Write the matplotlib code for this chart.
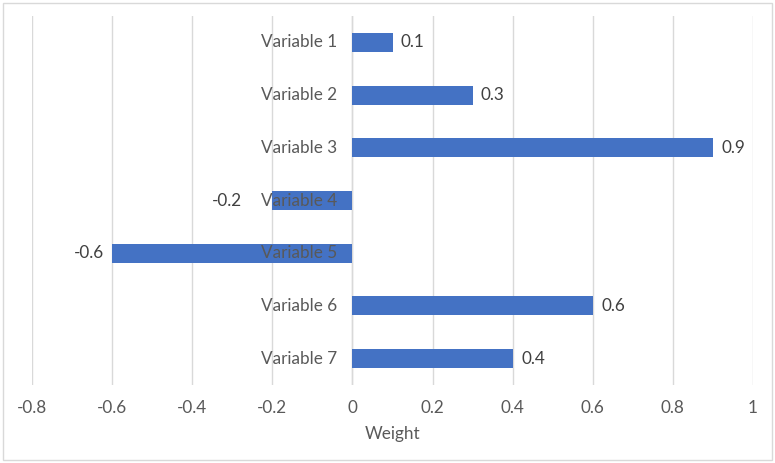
import matplotlib.pyplot as plt
from matplotlib.patches import Rectangle

categories = ['Variable 1', 'Variable 2', 'Variable 3', 'Variable 4',
              'Variable 5', 'Variable 6', 'Variable 7']
weights = [0.1, 0.3, 0.9, -0.2, -0.6, 0.6, 0.4]
xticks = [-0.8, -0.6, -0.4, -0.2, 0, 0.2, 0.4, 0.6, 0.8, 1]
xticklabels = ['-0.8', '-0.6', '-0.4', '-0.2', '0', '0.2', '0.4', '0.6', '0.8', '1']

plt.rcParams['font.family'] = ['Lato', 'DejaVu Sans']
text_col = '#595959'
fs = 12.3

fig = plt.figure(figsize=(7.75, 4.63), dpi=100)
ax = fig.add_axes([32 / 775, 1 - 385 / 463, (753 - 32) / 775, (385 - 16) / 463])

ypos = list(range(len(categories)))
ax.barh(ypos, weights, height=0.36, color='#4472C4', zorder=3)
ax.set_ylim(len(categories) - 0.5, -0.5)
ax.set_xlim(-0.8, 1.0)

ax.set_xticks(xticks)
ax.set_xticklabels(xticklabels)
ax.tick_params(axis='x', length=0, pad=11, labelsize=fs, colors=text_col)
ax.set_yticks([])
ax.grid(axis='x', color='#d9d9d9', linewidth=1, zorder=0)
ax.axvline(0, color='#d9d9d9', linewidth=1, zorder=1)
for s in ax.spines.values():
    s.set_visible(False)
ax.set_xlabel('Weight', fontsize=fs, color=text_col, labelpad=7)

# category labels sit next to the zero line, like Excel
for y, name in zip(ypos, categories):
    ax.annotate(name, (0, y), xytext=(-11, 0), textcoords='offset points',
                ha='right', va='center', fontsize=fs, color=text_col, zorder=4)

for y, w in zip(ypos, weights):
    if w >= 0:
        off, ha = 6, 'left'
    elif w > -0.4:
        off, ha = -22, 'right'
    else:
        off, ha = -6, 'right'
    ax.annotate(f'{w:g}', (w, y), xytext=(off, 0), textcoords='offset points',
                ha=ha, va='center', fontsize=fs, color='#404040', zorder=4)

fig.patches.append(Rectangle((3 / 775, 3 / 463), 769 / 775, 457 / 463,
                             transform=fig.transFigure, fill=False,
                             edgecolor='#d9d9d9', linewidth=1))

fig.savefig('out.png', dpi=100, facecolor='white')
